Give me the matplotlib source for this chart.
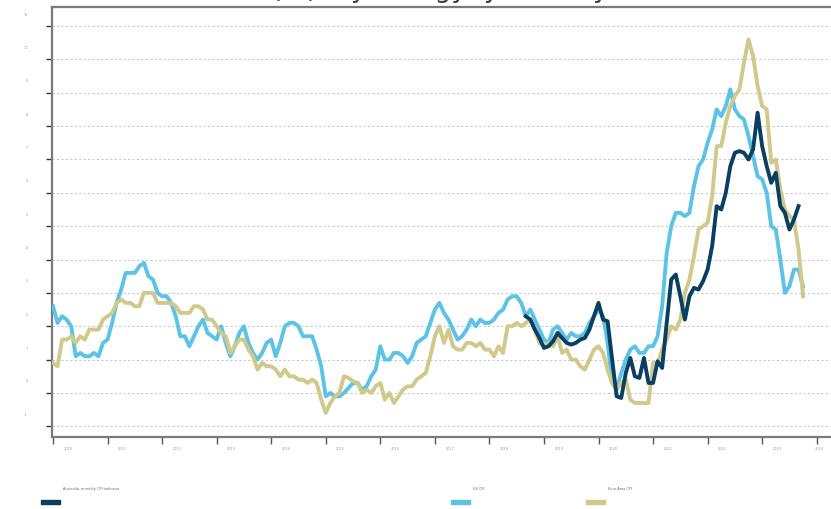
import numpy as np
import matplotlib
matplotlib.use("Agg")
import matplotlib.pyplot as plt
from matplotlib.patches import Rectangle
from matplotlib.transforms import ScaledTranslation

# ---------------- data (year-on-year %, monthly) ----------------
us_start = (2010, 1)
us_cpi = [
    2.6, 2.1, 2.3, 2.2, 2.0, 1.1, 1.2, 1.1, 1.1, 1.2, 1.1, 1.5,
    1.6, 2.1, 2.7, 3.1, 3.6, 3.6, 3.6, 3.8, 3.9, 3.5, 3.4, 3.0,
    2.9, 2.9, 2.7, 2.3, 1.7, 1.7, 1.4, 1.7, 2.0, 2.2, 1.8, 1.7,
    1.6, 2.0, 1.5, 1.1, 1.4, 1.8, 2.0, 1.5, 1.2, 1.0, 1.2, 1.5,
    1.6, 1.1, 1.5, 2.0, 2.1, 2.1, 2.0, 1.7, 1.7, 1.7, 1.3, 0.8,
    -0.1, 0.0, -0.1, -0.1, 0.0, 0.15, 0.3, 0.3, 0.1, 0.2, 0.5, 0.7,
    1.4, 1.0, 1.0, 1.2, 1.2, 1.1, 0.9, 1.1, 1.5, 1.6, 1.7, 2.1,
    2.5, 2.7, 2.4, 2.2, 1.9, 1.6, 1.7, 1.9, 2.2, 2.0, 2.2, 2.1,
    2.1, 2.2, 2.4, 2.5, 2.8, 2.9, 2.9, 2.7, 2.3, 2.5, 2.2, 1.9,
    1.6, 1.5, 1.9, 2.0, 1.8, 1.6, 1.8, 1.7, 1.7, 1.8, 2.1, 2.3,
    2.5, 2.3, 1.5, 0.3, 0.1, 0.6, 1.0, 1.3, 1.4, 1.2, 1.2, 1.4,
    1.4, 1.7, 2.6, 4.2, 5.0, 5.4, 5.4, 5.3, 5.4, 6.2, 6.8, 7.0,
    7.5, 7.9, 8.5, 8.3, 8.6, 9.1, 8.5, 8.3, 8.2, 7.7, 7.1, 6.5,
    6.4, 6.0, 5.0, 4.9, 4.0, 3.0, 3.2, 3.7, 3.7, 3.2,
]

euro_start = (2010, 1)
euro_cpi = [
    0.9, 0.8, 1.6, 1.6, 1.7, 1.5, 1.7, 1.6, 1.9, 1.9, 1.9, 2.2,
    2.3, 2.4, 2.7, 2.8, 2.7, 2.7, 2.6, 2.6, 3.0, 3.0, 3.0, 2.7,
    2.7, 2.7, 2.7, 2.6, 2.4, 2.4, 2.4, 2.6, 2.6, 2.5, 2.2, 2.2,
    2.0, 1.8, 1.7, 1.2, 1.4, 1.6, 1.6, 1.3, 1.1, 0.7, 0.9, 0.8,
    0.8, 0.7, 0.5, 0.7, 0.5, 0.5, 0.4, 0.4, 0.3, 0.4, 0.3, -0.2,
    -0.6, -0.3, -0.1, 0.0, 0.5, 0.45, 0.35, 0.3, 0.0, 0.1, 0.0, 0.2,
    0.3, -0.2, 0.0, -0.3, -0.1, 0.1, 0.2, 0.2, 0.4, 0.5, 0.6, 1.1,
    1.7, 2.0, 1.5, 1.9, 1.4, 1.3, 1.3, 1.5, 1.5, 1.4, 1.5, 1.3,
    1.3, 1.1, 1.4, 1.2, 2.0, 2.0, 2.1, 2.0, 2.1, 2.2, 1.9, 1.5,
    1.4, 1.5, 1.4, 1.7, 1.2, 1.3, 1.0, 1.0, 0.8, 0.7, 1.0, 1.3,
    1.4, 1.2, 0.7, 0.3, 0.1, 0.3, 0.4, -0.2, -0.3, -0.3, -0.3, -0.3,
    0.9, 0.9, 1.3, 1.6, 2.0, 1.9, 2.2, 3.0, 3.4, 4.1, 4.9, 5.0,
    5.1, 5.9, 7.4, 7.4, 8.1, 8.6, 8.9, 9.1, 9.9, 10.6, 10.1, 9.2,
    8.6, 8.5, 6.9, 7.0, 6.1, 5.5, 5.3, 5.2, 4.3, 2.9,
]

aus_start = (2018, 9)
aus_cpi = [
    2.3, 2.2, 1.9, 1.65,
    1.35, 1.4, 1.55, 1.8, 1.65, 1.5, 1.45, 1.5, 1.6, 1.65, 1.9, 2.3,
    2.7, 2.2, 2.15, 1.0, -0.1, -0.15, 0.6, 1.05, 0.5, 0.45, 1.05, 0.3,
    0.3, 0.95, 0.75, 2.1, 3.4, 3.55, 2.9, 2.2, 2.9, 3.15, 3.1, 3.35,
    3.7, 4.4, 5.6, 5.5, 6.0, 6.8, 7.2, 7.25, 7.2, 7.0, 7.3, 8.4,
    7.4, 6.8, 6.3, 6.6, 5.6, 5.4, 4.9, 5.2, 5.6,
]

series_names = ["Australia, monthly CPI indicator", "US CPI", "Euro Area CPI"]
colors = ["#0b3f62", "#5dc3e6", "#cfc98b"]

years = list(range(2010, 2025))
y_values = list(range(-1, 12))


def month_axis(start, n):
    y0, m0 = start
    return y0 + (m0 - 1) / 12 + np.arange(n) / 12


# ---------------- figure ----------------
W, H, DPI = 831, 509, 100
fig = plt.figure(figsize=(W / DPI, H / DPI), dpi=DPI)
fig.patch.set_facecolor("white")

left_px, right_px, top_px, bot_px = 52, 831, 7, 437
ax = fig.add_axes([left_px / W, 1 - bot_px / H,
                   (right_px - left_px) / W, (bot_px - top_px) / H])

ax.plot(month_axis(us_start, len(us_cpi)), us_cpi, color=colors[1], lw=2.8,
        solid_joinstyle="round", zorder=3)
ax.plot(month_axis(euro_start, len(euro_cpi)), euro_cpi, color=colors[2], lw=2.8,
        solid_joinstyle="round", zorder=3)
ax.plot(month_axis(aus_start, len(aus_cpi)), aus_cpi, color=colors[0], lw=2.8,
        solid_joinstyle="round", zorder=4)

ax.set_xlim(2010 - 1 / 54.55, 2010 + 778 / 54.55)
ax.set_ylim(-1.32, 11.57)

ax.set_yticks(y_values)
ax.set_yticklabels([str(v) for v in y_values])
ax.set_xticks(years)
ax.set_xticklabels([str(y) for y in years])

ax.grid(axis="y", color="#bccdd5", lw=0.8, ls=(0, (2, 2)))
ax.set_axisbelow(True)

for s in ["left", "bottom", "top"]:
    ax.spines[s].set_color("#7a7a7a")
    ax.spines[s].set_linewidth(1.6)
ax.spines["right"].set_visible(False)

ax.tick_params(axis="y", direction="out", length=4.5, width=1.0, color="#333333",
               labelsize=2.5, labelcolor="#9a9a9a", pad=13)
ax.tick_params(axis="x", direction="out", length=5, width=1.0, color="#555555",
               labelsize=2.5, labelcolor="#9a9a9a", pad=2)

# tick labels sit offset from their ticks as in the reference
for lab in ax.get_yticklabels():
    lab.set_transform(lab.get_transform() + ScaledTranslation(0, 12 / DPI, fig.dpi_scale_trans))
xlabs = ax.get_xticklabels()
for i, lab in enumerate(xlabs):
    dx = 15 if i < len(xlabs) - 1 else 3
    lab.set_transform(lab.get_transform() + ScaledTranslation(dx / DPI, 0, fig.dpi_scale_trans))

# title (mostly cut off at the top in the reference)
fig.text(105 / W, 1 + 3 / H, "CPI inflation (%), by energy, year-on-year",
         ha="left", va="baseline", fontsize=19, color="#404040")

# legend: swatch with label above-right
legend_x = [41, 451, 586]
for name, c, lx in zip(series_names, colors, legend_x):
    fig.patches.append(Rectangle((lx / W, 1 - 503.5 / H), 19 / W, 3.5 / H,
                                 transform=fig.transFigure, color=c, zorder=5))
    fig.text((lx + 22) / W, 1 - 489 / H, name, fontsize=2.5, color="#666666",
             ha="left", va="center")

fig.savefig("out.png", dpi=DPI)
